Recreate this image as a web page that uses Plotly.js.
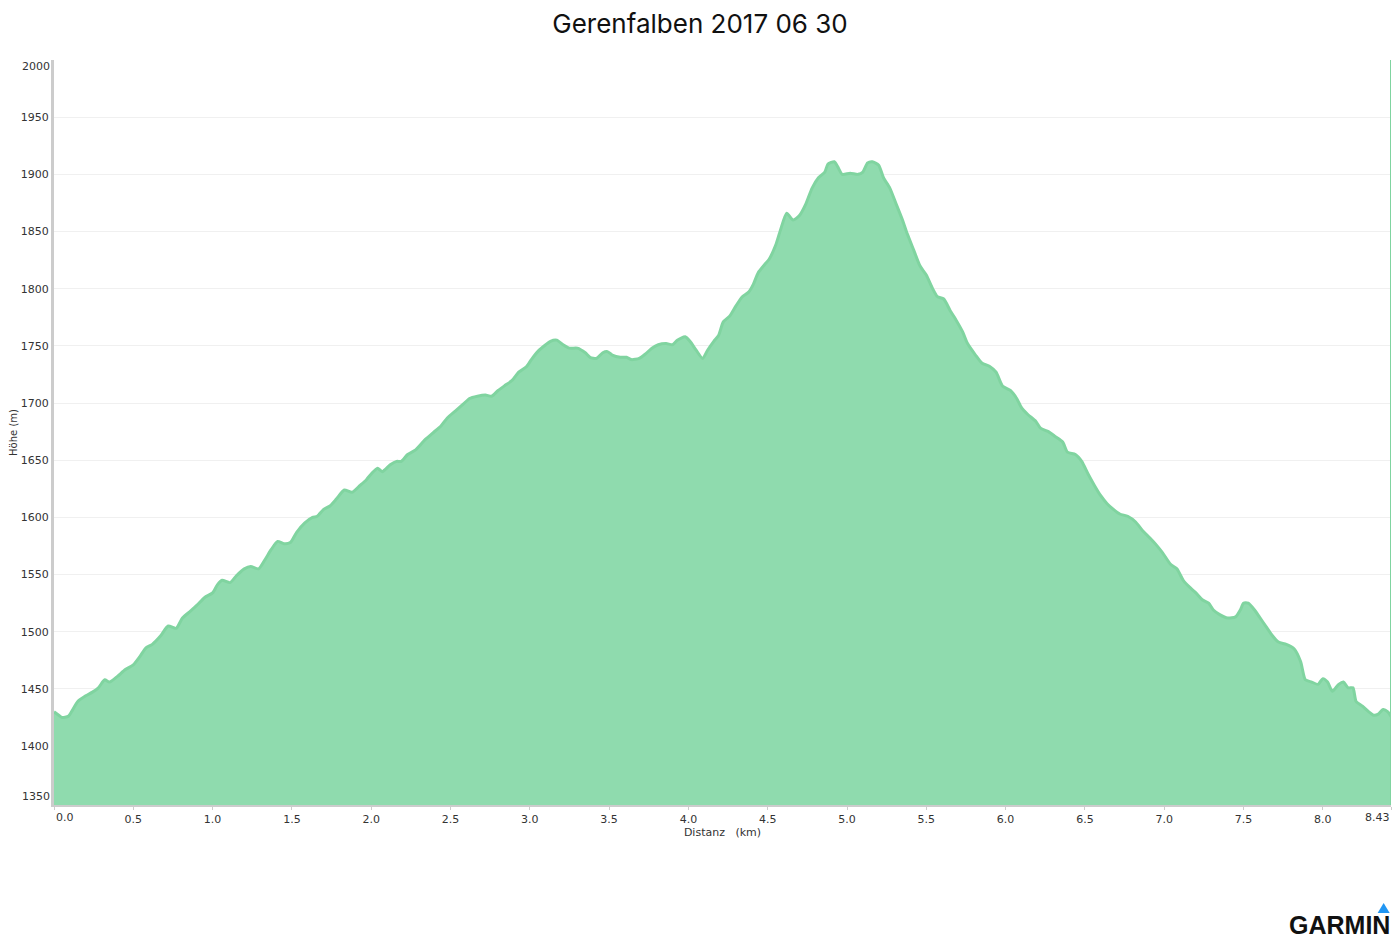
<!DOCTYPE html>
<html>
<head>
<meta charset="utf-8">
<script src="https://cdn.plot.ly/plotly-3.0.1.min.js"></script>
<style>
  html, body { margin: 0; padding: 0; background: #fff; }
  #chart { width: 1400px; height: 942px; }
</style>
</head>
<body>
<div id="chart"></div>
<script>
// Distance (km)
const distanceKm = [
  0.00, 0.03, 0.05, 0.09, 0.11, 0.15, 0.20, 0.24, 0.28, 0.32, 0.35, 0.40, 0.45, 0.50, 0.54, 0.58,
  0.62, 0.67, 0.72, 0.77, 0.81, 0.86, 0.90, 0.95, 1.00, 1.03, 1.06, 1.11, 1.15, 1.20, 1.24, 1.29,
  1.33, 1.37, 1.41, 1.45, 1.49, 1.53, 1.58, 1.63, 1.66, 1.70, 1.74, 1.78, 1.83, 1.88, 1.93, 1.97,
  2.00, 2.04, 2.07, 2.12, 2.16, 2.19, 2.23, 2.28, 2.34, 2.39, 2.44, 2.48, 2.53, 2.58, 2.62, 2.67,
  2.72, 2.76, 2.80, 2.84, 2.89, 2.93, 2.98, 3.01, 3.05, 3.10, 3.13, 3.17, 3.21, 3.25, 3.30, 3.35,
  3.38, 3.42, 3.46, 3.49, 3.52, 3.57, 3.61, 3.64, 3.69, 3.73, 3.77, 3.81, 3.86, 3.90, 3.93, 3.98,
  4.01, 4.05, 4.09, 4.12, 4.16, 4.19, 4.22, 4.26, 4.30, 4.34, 4.38, 4.41, 4.44, 4.48, 4.51, 4.55,
  4.58, 4.62, 4.66, 4.70, 4.74, 4.78, 4.82, 4.86, 4.88, 4.92, 4.94, 4.97, 5.02, 5.07, 5.10, 5.13,
  5.16, 5.20, 5.23, 5.27, 5.31, 5.35, 5.38, 5.42, 5.46, 5.50, 5.54, 5.57, 5.61, 5.65, 5.69, 5.73,
  5.76, 5.81, 5.85, 5.90, 5.94, 5.98, 6.03, 6.07, 6.10, 6.14, 6.19, 6.22, 6.27, 6.31, 6.36, 6.39,
  6.44, 6.48, 6.52, 6.56, 6.60, 6.64, 6.68, 6.72, 6.77, 6.82, 6.86, 6.91, 6.95, 6.99, 7.04, 7.08,
  7.12, 7.16, 7.20, 7.24, 7.28, 7.31, 7.35, 7.40, 7.45, 7.48, 7.50, 7.53, 7.57, 7.60, 7.64, 7.68,
  7.72, 7.77, 7.82, 7.86, 7.89, 7.93, 7.97, 8.00, 8.03, 8.06, 8.10, 8.13, 8.16, 8.19, 8.21, 8.25,
  8.29, 8.32, 8.35, 8.38, 8.41, 8.43
];

// Elevation (m)
const elevationM = [
  1430, 1427, 1425, 1426, 1430, 1439, 1444, 1447, 1451, 1458, 1456, 1461, 1467, 1471, 1478, 1486,
  1489, 1496, 1505, 1503, 1512, 1518, 1523, 1530, 1534, 1541, 1545, 1543, 1549, 1555, 1557, 1555,
  1563, 1572, 1579, 1577, 1578, 1587, 1595, 1600, 1601, 1607, 1610, 1616, 1624, 1622, 1628, 1633,
  1638, 1643, 1640, 1646, 1649, 1649, 1655, 1659, 1668, 1674, 1680, 1687, 1693, 1699, 1704, 1706,
  1707, 1706, 1711, 1715, 1720, 1727, 1732, 1738, 1745, 1751, 1754, 1755, 1751, 1748, 1748, 1744,
  1740, 1739, 1744, 1745, 1742, 1740, 1740, 1738, 1739, 1743, 1748, 1751, 1752, 1751, 1755, 1758,
  1754, 1746, 1739, 1746, 1754, 1759, 1771, 1776, 1785, 1793, 1797, 1804, 1814, 1821, 1826, 1838,
  1851, 1866, 1860, 1864, 1874, 1888, 1897, 1902, 1909, 1911, 1907, 1900, 1901, 1900, 1902, 1910,
  1911, 1908, 1897, 1888, 1874, 1860, 1848, 1834, 1820, 1812, 1800, 1793, 1791, 1781, 1772, 1762,
  1752, 1742, 1735, 1732, 1727, 1715, 1711, 1704, 1696, 1690, 1684, 1678, 1675, 1671, 1666, 1657,
  1655, 1649, 1638, 1628, 1619, 1612, 1607, 1603, 1601, 1596, 1589, 1582, 1576, 1569, 1559, 1555,
  1545, 1539, 1534, 1528, 1525, 1519, 1515, 1512, 1513, 1519, 1525, 1525, 1519, 1513, 1505, 1497,
  1491, 1489, 1485, 1474, 1458, 1456, 1454, 1459, 1456, 1448, 1454, 1456, 1451, 1451, 1439, 1435,
  1430, 1427, 1428, 1432, 1430, 1426
];

const xTickVals = [0, 0.5, 1, 1.5, 2, 2.5, 3, 3.5, 4, 4.5, 5, 5.5, 6, 6.5, 7, 7.5, 8, 8.43];
const xTickText = ['0.0', '0.5', '1.0', '1.5', '2.0', '2.5', '3.0', '3.5', '4.0', '4.5', '5.0', '5.5', '6.0', '6.5', '7.0', '7.5', '8.0', '8.43'];
const yTickVals = [1350, 1400, 1450, 1500, 1550, 1600, 1650, 1700, 1750, 1800, 1850, 1900, 1950, 2000];

const titleText = 'Gerenfalben 2017 06 30';
const xTitle = 'Distanz\u00a0\u00a0\u00a0(km)';
const yTitle = 'Höhe (m)';
const brandText = 'GARMIN';

const tickFont = { family: 'DejaVu Sans, Verdana, sans-serif', size: 11, color: '#333' };

const trace = {
  type: 'scatter',
  mode: 'lines',
  x: distanceKm,
  y: elevationM,
  fill: 'tozeroy',
  fillcolor: 'rgb(143,219,174)',
  line: { color: 'rgb(128,212,160)', width: 3, shape: 'spline', smoothing: 0.6 },
  hoverinfo: 'skip'
};

const lastX = distanceKm[distanceKm.length - 1];
const yMin = 1348.5, yMax = 2000;

// Edge tick labels are drawn as annotations so they sit inside the plot edges (as in the reference)
const edgeX = [0, xTickVals.length - 1];
const edgeY = [0, yTickVals.length - 1];
const xTickTextShown = xTickText.map((t, i) => edgeX.includes(i) ? '' : t);
const yTickTextShown = yTickVals.map((v, i) => edgeY.includes(i) ? '' : String(v));

const annotations = [
  {
    text: xTickText[0], xref: 'x', yref: 'paper', x: xTickVals[0], y: 0,
    xanchor: 'left', yanchor: 'top', yshift: -4, xshift: 0, showarrow: false, font: tickFont
  },
  {
    text: xTickText[xTickText.length - 1], xref: 'x', yref: 'paper', x: xTickVals[xTickVals.length - 1], y: 0,
    xanchor: 'right', yanchor: 'top', yshift: -4, xshift: 1, showarrow: false, font: tickFont
  },
  {
    text: String(yTickVals[0]), xref: 'paper', yref: 'y', x: 0, y: yTickVals[0],
    xanchor: 'right', yanchor: 'middle', xshift: -2, yshift: 7, showarrow: false, font: tickFont
  },
  {
    text: String(yTickVals[yTickVals.length - 1]), xref: 'paper', yref: 'y', x: 0, y: yTickVals[yTickVals.length - 1],
    xanchor: 'right', yanchor: 'middle', xshift: -2, yshift: -6, showarrow: false, font: tickFont
  },
  {
    text: '<b>' + brandText + '</b>',
    xref: 'paper', yref: 'paper',
    x: 1.0, y: -0.1812, xanchor: 'right', yanchor: 'bottom', xshift: 0,
    borderpad: 0,
    showarrow: false,
    font: { family: 'Liberation Sans, Arial, sans-serif', size: 25, color: '#111' }
  }
];

const layout = {
  width: 1400,
  height: 942,
  paper_bgcolor: '#ffffff',
  plot_bgcolor: '#ffffff',
  showlegend: false,
  margin: { l: 54, r: 9, t: 60, b: 137 },
  title: {
    text: titleText,
    font: { family: 'Inter, Roboto, sans-serif', size: 26, color: '#111' },
    x: 0.5, xanchor: 'center', y: 0.975, yanchor: 'middle'
  },
  xaxis: {
    range: [0, lastX],
    tickvals: xTickVals,
    ticktext: xTickTextShown,
    tickfont: tickFont,
    ticks: 'outside',
    ticklen: 3,
    tickcolor: '#ccc',
    showgrid: false,
    zeroline: false,
    showline: true,
    linecolor: '#ccc',
    linewidth: 2,
    title: { text: xTitle, font: tickFont, standoff: 2 },
    fixedrange: true
  },
  yaxis: {
    range: [yMin, yMax],
    tickvals: yTickVals,
    ticktext: yTickTextShown,
    tickfont: tickFont,
    ticks: '',
    showgrid: true,
    gridcolor: '#f0f0f0',
    gridwidth: 1,
    zeroline: false,
    showline: true,
    linecolor: '#ccc',
    linewidth: 3,
    title: { text: yTitle, font: { family: 'DejaVu Sans, Verdana, sans-serif', size: 10, color: '#333' }, standoff: 2 },
    fixedrange: true
  },
  shapes: [
    {
      type: 'line', xref: 'x', yref: 'paper',
      x0: lastX, x1: lastX, y0: 0, y1: 1,
      line: { color: 'rgb(128,212,160)', width: 2 }
    },
    {
      type: 'path', xref: 'paper', yref: 'paper',
      path: 'M 0.9900 -0.1450 L 0.9990 -0.1450 L 0.9945 -0.1316 Z',
      fillcolor: '#2196f3', line: { width: 0 }
    }
  ],
  annotations: annotations
};

Plotly.newPlot('chart', [trace], layout, { displayModeBar: false, staticPlot: true });
</script>
</body>
</html>
